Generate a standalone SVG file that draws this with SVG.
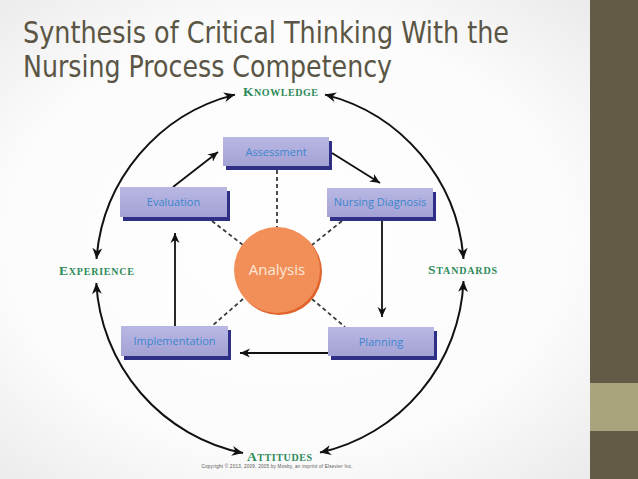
<svg xmlns="http://www.w3.org/2000/svg" width="638" height="479" viewBox="0 0 638 479">
  <defs>
    <radialGradient id="bg" cx="0.45" cy="0.5" r="0.75">
      <stop offset="0" stop-color="#ffffff"/>
      <stop offset="0.6" stop-color="#fbfbfb"/>
      <stop offset="1" stop-color="#e6e6e6"/>
    </radialGradient>
    <linearGradient id="boxg" x1="0" y1="0" x2="0" y2="1">
      <stop offset="0" stop-color="#b9b7e3"/>
      <stop offset="1" stop-color="#a4a2d4"/>
    </linearGradient>
    <marker id="ah" viewBox="0 0 10 10" refX="10" refY="5" markerWidth="11" markerHeight="11" markerUnits="userSpaceOnUse" orient="auto-start-reverse">
      <path d="M0,0.5 L10,5 L0,9.5 L3,5 z" fill="#111"/>
    </marker>
    <marker id="ahs" viewBox="0 0 10 10" refX="10" refY="5" markerWidth="10" markerHeight="10" markerUnits="userSpaceOnUse" orient="auto-start-reverse">
      <path d="M0,0.5 L10,5 L0,9.5 L3,5 z" fill="#111"/>
    </marker>
  </defs>
  <style>
    .title { font-family: "Liberation Sans Narrow", "DejaVu Sans Condensed", "Liberation Sans", sans-serif; font-size: 30px; fill: #5a5544; }
    .lbl { font-family: "Liberation Serif", "DejaVu Serif", serif; font-weight: bold; fill: #2d8a5b; }
    .big { font-size: 13.5px; }
    .sm { font-size: 10px; }
    .box { fill: url(#boxg); }
    .shadow { fill: #2f2f86; }
    .btxt { font-family: "Open Sans", "Liberation Sans", sans-serif; font-size: 11px; fill: #3d86cf; text-anchor: middle; }
    .arc { fill: none; stroke: #111; stroke-width: 2; marker-start: url(#ah); marker-end: url(#ah); }
    .arr { fill: none; stroke: #111; stroke-width: 1.8; marker-end: url(#ahs); }
    .dash { fill: none; stroke: #3a3a3a; stroke-width: 1.8; stroke-dasharray: 4 3; }
  </style>

  <rect x="0" y="0" width="638" height="479" fill="url(#bg)"/>
  <rect x="590" y="0" width="48" height="479" fill="#645b46"/>
  <rect x="590" y="383" width="48" height="48" fill="#a8a57e"/>

  <g id="title">
    <text class="title" x="23" y="43" textLength="486" lengthAdjust="spacingAndGlyphs">Synthesis of Critical Thinking With the</text>
    <text class="title" x="23" y="77" textLength="369" lengthAdjust="spacingAndGlyphs">Nursing Process Competency</text>
  </g>

  <g id="connectors">
    <path class="arc" d="M96.5,259 A184,184 0 0 1 235,94.6"/>
    <path class="arc" d="M325,94.6 A184,184 0 0 1 463.5,259"/>
    <path class="arc" d="M463.5,281 A184,184 0 0 1 320,452.6"/>
    <path class="arc" d="M243,453 A184,184 0 0 1 96.3,283"/>

    <line class="arr" x1="173" y1="187" x2="218" y2="152"/>
    <line class="arr" x1="332" y1="153" x2="380" y2="183"/>
    <line class="arr" x1="382" y1="221" x2="382" y2="317"/>
    <line class="arr" x1="328" y1="353" x2="240" y2="353"/>
    <line class="arr" x1="175" y1="326" x2="175" y2="233"/>

    <line class="dash" x1="277" y1="170" x2="277" y2="228"/>
    <line class="dash" x1="212" y1="221" x2="243" y2="245"/>
    <line class="dash" x1="342" y1="221" x2="312" y2="245"/>
    <line class="dash" x1="243" y1="299" x2="212" y2="326"/>
    <line class="dash" x1="312" y1="299" x2="345" y2="327"/>
  </g>

  <g id="knowledge">
    <text class="lbl" x="243" y="96" textLength="75"><tspan class="big">K</tspan><tspan class="sm">NOWLEDGE</tspan></text>
  </g>
  <g id="experience">
    <text class="lbl" x="59" y="275" textLength="75"><tspan class="big">E</tspan><tspan class="sm">XPERIENCE</tspan></text>
  </g>
  <g id="standards">
    <text class="lbl" x="428" y="274" textLength="69"><tspan class="big">S</tspan><tspan class="sm">TANDARDS</tspan></text>
  </g>
  <g id="attitudes">
    <text class="lbl" x="247" y="461" textLength="65"><tspan class="big">A</tspan><tspan class="sm">TTITUDES</tspan></text>
  </g>

  <g id="assessment">
    <rect class="shadow" x="226" y="141" width="106" height="29"/>
    <rect class="box" x="223" y="137" width="106" height="29"/>
    <text class="btxt" x="276" y="156">Assessment</text>
  </g>
  <g id="evaluation">
    <rect class="shadow" x="123" y="191" width="107" height="30"/>
    <rect class="box" x="120" y="187" width="107" height="30"/>
    <text class="btxt" x="173.5" y="206">Evaluation</text>
  </g>
  <g id="nursing-diagnosis">
    <rect class="shadow" x="330" y="192" width="106" height="29"/>
    <rect class="box" x="327" y="188" width="106" height="29"/>
    <text class="btxt" x="380" y="206">Nursing Diagnosis</text>
  </g>
  <g id="implementation">
    <rect class="shadow" x="124" y="330" width="107" height="30"/>
    <rect class="box" x="121" y="326" width="107" height="30"/>
    <text class="btxt" x="174.5" y="345">Implementation</text>
  </g>
  <g id="planning">
    <rect class="shadow" x="331" y="331" width="106" height="29"/>
    <rect class="box" x="328" y="327" width="106" height="29"/>
    <text class="btxt" x="381" y="346">Planning</text>
  </g>

  <g id="analysis">
    <circle cx="279" cy="272" r="43" fill="#e0642c"/>
    <circle cx="277" cy="270" r="43" fill="#f28f58"/>
    <text x="277" y="275" text-anchor="middle" font-family="'Open Sans', 'Liberation Sans', sans-serif" font-size="15" fill="#fde9da">Analysis</text>
  </g>

  <g id="copyright">
    <text x="277" y="468" text-anchor="middle" font-family="'Liberation Sans', sans-serif" font-size="4.6" fill="#555" textLength="151">Copyright © 2013, 2009, 2005 by Mosby, an imprint of Elsevier Inc.</text>
  </g>
</svg>
